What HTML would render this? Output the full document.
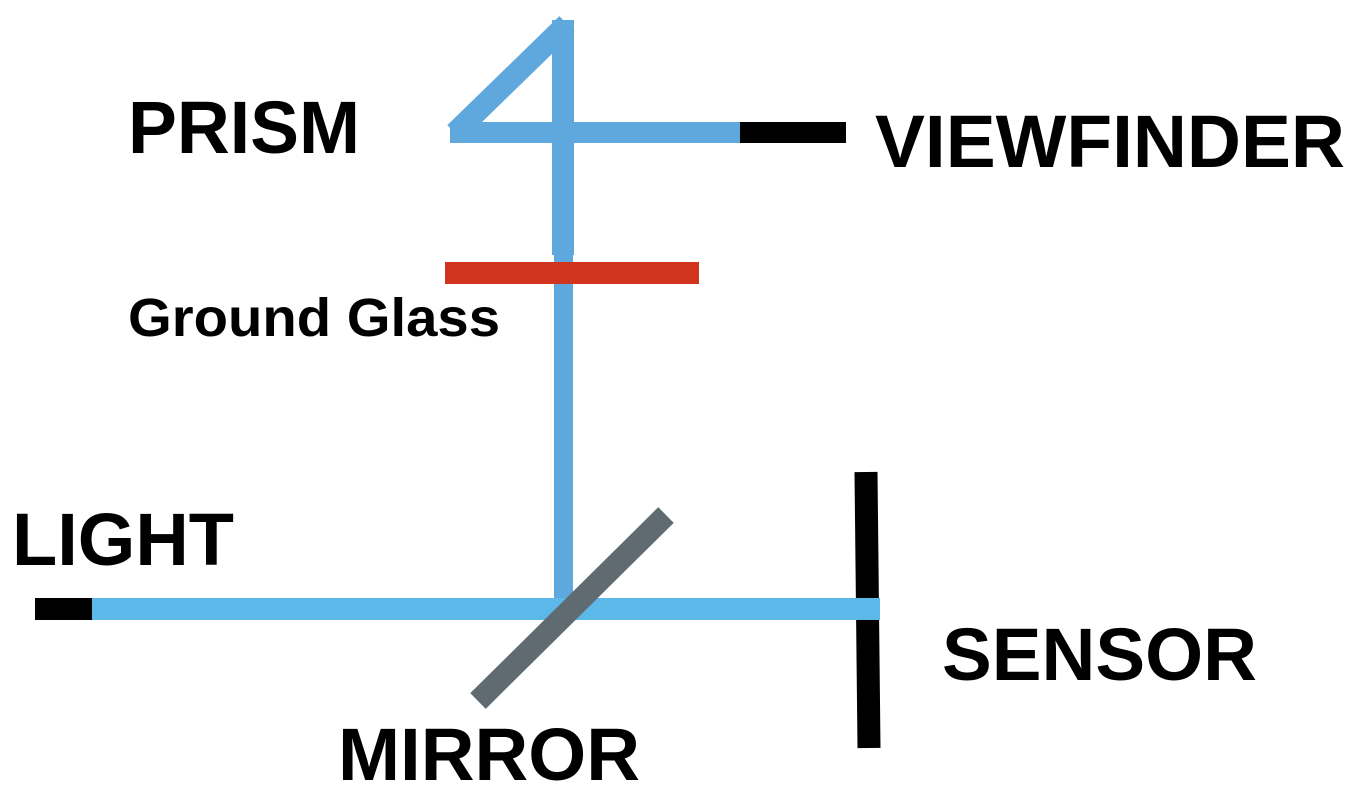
<!DOCTYPE html>
<html><head><meta charset="utf-8"><style>html,body{margin:0;padding:0;background:#fff;}svg{display:block}</style></head>
<body>
<svg width="1366" height="808" viewBox="0 0 1366 808" xmlns="http://www.w3.org/2000/svg">
<rect width="1366" height="808" fill="#fff"/>
<!-- prism diagonal -->
<line x1="455" y1="133" x2="567" y2="24" stroke="#5fa8de" stroke-width="22"/>
<!-- prism vertical -->
<rect x="552" y="20" width="22" height="235" fill="#5fa8de"/>
<!-- prism horizontal -->
<rect x="450" y="122" width="292" height="21" fill="#5fa8de"/>
<rect x="740" y="122" width="106" height="21" fill="#000"/>
<!-- lower vertical -->
<rect x="554" y="255" width="19" height="345" fill="#5fa8de"/>
<!-- ground glass -->
<rect x="445" y="262" width="254" height="22" fill="#d2351f"/>
<!-- light path -->
<rect x="92" y="598" width="788" height="22" fill="#5cb8e8"/>
<rect x="35" y="598" width="57" height="22" fill="#000"/>
<!-- mirror -->
<line x1="478" y1="701" x2="666" y2="515" stroke="#5f6b70" stroke-width="22"/>
<!-- sensor -->
<line x1="866" y1="472" x2="869" y2="748" stroke="#000" stroke-width="23"/>
<rect x="855" y="598" width="25" height="22" fill="#5cb8e8"/>
<g font-family="Liberation Sans, Arial, sans-serif" font-weight="bold" fill="#000">
<text x="128" y="153" font-size="74" textLength="232" lengthAdjust="spacingAndGlyphs">PRISM</text>
<text x="875" y="167" font-size="74" textLength="470" lengthAdjust="spacingAndGlyphs">VIEWFINDER</text>
<text x="128" y="336" font-size="54" textLength="372" lengthAdjust="spacingAndGlyphs">Ground Glass</text>
<text x="12" y="565" font-size="74" textLength="222" lengthAdjust="spacingAndGlyphs">LIGHT</text>
<text x="942" y="680" font-size="74" textLength="315" lengthAdjust="spacingAndGlyphs">SENSOR</text>
<text x="338" y="780" font-size="74" textLength="302" lengthAdjust="spacingAndGlyphs">MIRROR</text>
</g>
</svg>
</body></html>
